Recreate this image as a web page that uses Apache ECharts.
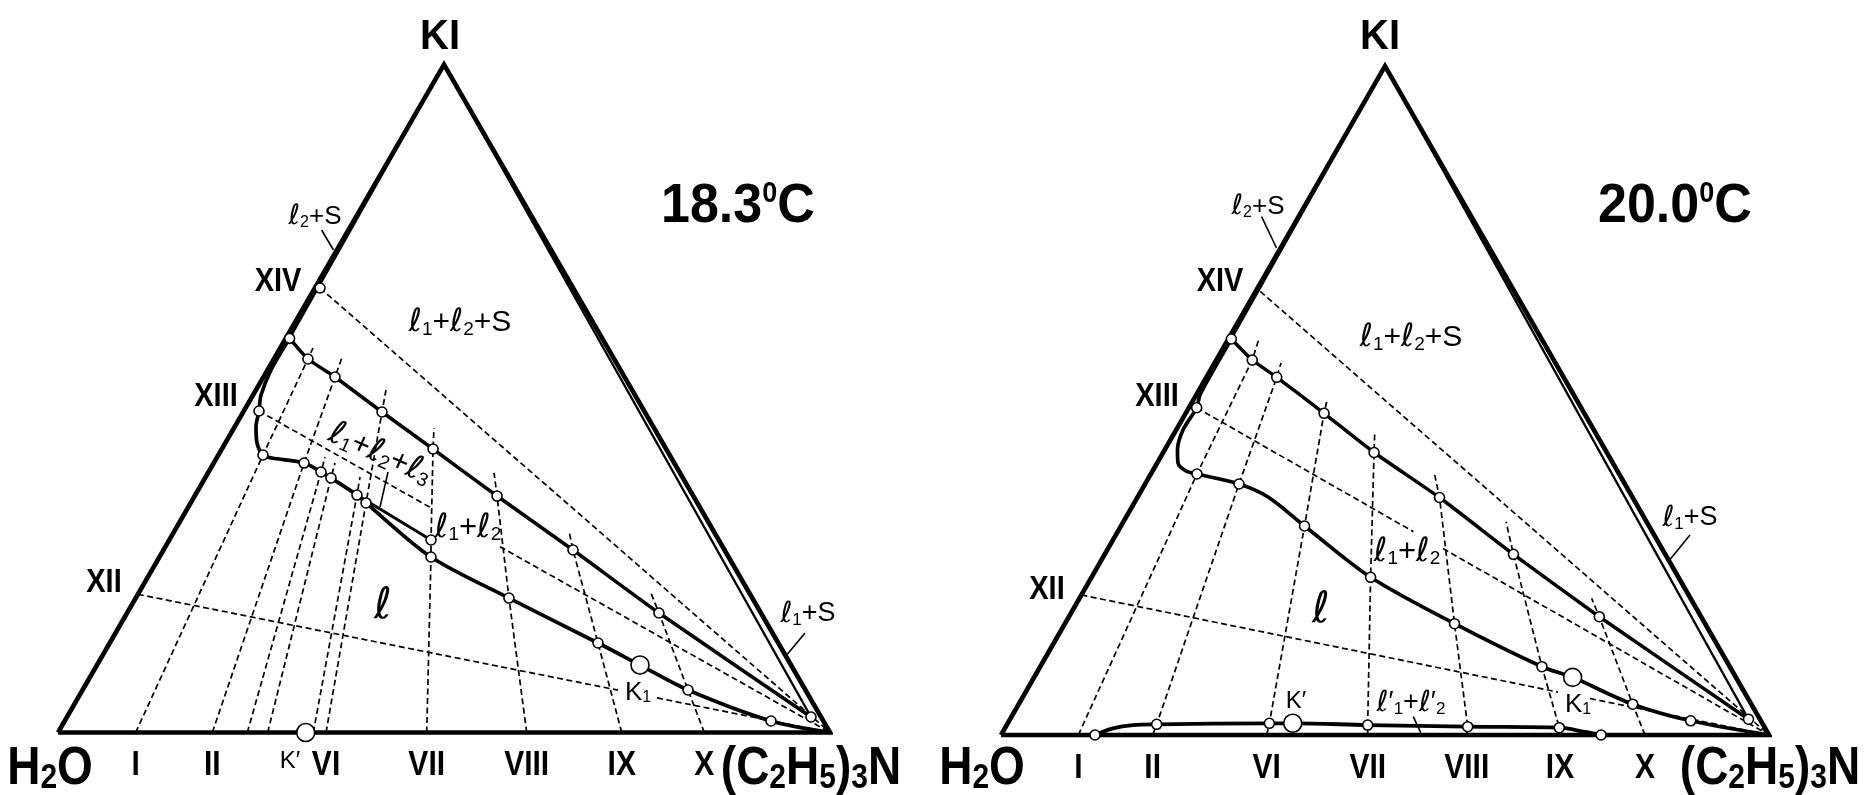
<!DOCTYPE html>
<html><head><meta charset="utf-8">
<script src="https://cdn.jsdelivr.net/npm/echarts@6/dist/echarts.min.js"></script>
<style>html,body{margin:0;padding:0;background:#fff}#c{width:1869px;height:795px}</style>
</head><body><div id="c"></div>
<script>
// Compositions are [ (C2H5)3N mass %, KI mass % ]; water = 100 - both.
const sectionNames = ['I','II','VI','VII','VIII','IX','X'];
const t1SectionBase = [10.06,19.99,34.72,47.76,60.71,73.02,83.72];
const t2SectionBase = [10.07,19.75,34.60,47.75,60.64,72.79,83.85];

// ---------- 18.3 C ----------
const t1Upper = [[0.5,59.0],[4.42,55.91],[9.27,53.22],[17.98,47.98],[27.36,42.44],[39.17,35.40],[53.05,27.32],[68.90,17.89],[96.38,2.32]];
const t1Lower = [[0.5,59.0],[0.46,54.27],[1.04,50.52],[1.97,48.13],[2.78,45.73],[4.11,43.34],[5.78,41.54],[7.17,41.09],[11.70,40.34],[14.57,39.0],[16.31,38.10],[20.95,35.55],[22.72,34.36],[35.18,26.27],[48.35,20.13],[63.25,13.40],[70.34,10.10],[78.43,6.36],[91.50,1.72],[100,0]];
const t1ThreePhase = [[20.95,35.55],[33.91,28.82]];
const t1Slivers = [[[0,100],[0.5,59.0]],[[0,100],[96.38,2.32]]];
const t1Sections = [
  [[10.06,0],[5.78,41.54],[4.42,55.91],[4.25,57.56]],
  [[19.99,0],[11.70,40.34],[9.27,53.22],[8.74,56.02]],
  [[24.52,0],[14.57,39.0],[13.97,41.24]],
  [[27.16,0],[16.31,38.10],[15.71,40.34]],
  [[33.07,0],[20.95,35.55],[20.0,38.25]],
  [[34.72,0],[22.72,34.36],[17.98,47.98],[16.85,51.27]],
  [[47.76,0],[35.18,26.27],[33.91,28.82],[27.36,42.44],[25.91,45.58]],
  [[60.71,0],[48.35,20.13],[39.17,35.40],[37.06,38.85]],
  [[73.02,0],[63.25,13.40],[53.05,27.32],[51.11,30.16]],
  [[83.72,0],[78.43,6.36],[68.90,17.89],[66.37,20.88]]
];
const t1Ties = [
  [[0,20.69],[69.37,6.34]], [[75.0,5.18],[100,0]],
  [[1.97,48.13],[31.33,33.72]], [[43.34,27.82],[100,0]],
  [[0.67,66.54],[100,0]]
];
const t1Circles = [[0.67,66.54],[0.5,59.0],[4.42,55.91],[9.27,53.22],[17.98,47.98],[27.36,42.44],[39.17,35.40],[53.05,27.32],[68.90,17.89],[96.38,2.32],
  [1.97,48.13],[5.78,41.54],[11.70,40.34],[14.57,39.0],[16.31,38.10],[20.95,35.55],[22.72,34.36],[35.18,26.27],[33.91,28.82],[48.35,20.13],[63.25,13.40],[78.43,6.36],[91.50,1.72]];
const t1Critical = [[32.09,0],[70.34,10.10]];

// ---------- 20.0 C ----------
const t2Upper = [[0.4,59.19],[4.69,56.05],[9.17,53.47],[18.02,48.09],[27.46,42.23],[39.35,35.50],[53.22,27.01],[69.06,17.68],[96.15,2.36]];
const t2Lower = [[0.4,59.19],[0.39,54.56],[0.50,50.82],[1.02,48.92],[0.90,45.59],[1.68,42.60],[2.72,40.66],[4.36,39.46],[6.01,39.01],[12.23,37.52],[16.98,35.58],[23.90,31.24],[36.34,23.57],[50.73,16.64],[65.33,10.21],[70.12,8.62],[79.95,4.60],[88.74,2.12],[100,0]];
const t2Bottom = [[12.24,0],[14.08,1.00],[16.44,1.49],[19.47,1.60],[34.07,1.75],[37.11,1.75],[47.0,1.49],[60.15,1.24],[72.15,1.09],[75.82,0.45],[78.13,0]];
const t2Slivers = [[[0,100],[0.4,59.19]],[[0,100],[96.15,2.36]]];
const t2Sections = [
  [[10.07,0],[6.01,39.01],[4.69,56.05],[4.02,59.04]],
  [[19.75,0],[19.47,1.60],[12.23,37.52],[9.17,53.47],[8.66,55.61]],
  [[34.60,0],[34.07,1.75],[23.90,31.24],[18.02,48.09],[17.50,49.82]],
  [[47.75,0],[47.0,1.49],[36.34,23.57],[27.46,42.23],[26.09,45.14]],
  [[60.64,0],[60.15,1.24],[50.73,16.64],[39.35,35.50],[36.70,39.36]],
  [[72.79,0],[72.15,1.09],[65.33,10.21],[53.22,27.01],[49.82,31.88]],
  [[83.85,0],[79.95,4.60],[69.06,17.68],[66.69,20.43]]
];
const t2Ties = [
  [[0,20.93],[69.32,6.42]], [[73.97,5.45],[100,0]],
  [[1.02,48.92],[38.51,30.39]], [[43.62,27.87],[100,0]],
  [[0.6,66.3],[100,0]]
];
const t2Circles = [[0.4,59.19],[4.69,56.05],[9.17,53.47],[18.02,48.09],[27.46,42.23],[39.35,35.50],[53.22,27.01],[69.06,17.68],[96.15,2.36],
  [1.02,48.92],[6.01,39.01],[12.23,37.52],[23.90,31.24],[36.34,23.57],[50.73,16.64],[65.33,10.21],[79.95,4.60],[88.74,2.12],
  [12.24,0],[19.47,1.60],[34.07,1.75],[47.0,1.49],[60.15,1.24],[72.15,1.09],[78.13,0]];
const t2Critical = [[37.11,1.75],[70.12,8.62]];

const triangle = [[0,0],[0,100],[100,0],[0,0]];

// ternary -> cartesian (x: amine + KI/2, y: KI)
const T = p => [p[0] + p[1] / 2, p[1]];

const FONT = '"Liberation Sans", Arial, Helvetica, sans-serif';

function line(g, pts, width, dashed, smooth, z) {
  return { type: 'line', xAxisIndex: g, yAxisIndex: g, data: pts.map(T), symbol: 'none', showSymbol: false,
    clip: false, silent: true, smooth: smooth || false, z: z || 2,
    lineStyle: { color: '#000', width: width, type: dashed ? [6, 3.5] : 'solid', join: 'miter', miterLimit: 20, opacity: 1 } };
}
function dots(g, pts, size) {
  return { type: 'scatter', xAxisIndex: g, yAxisIndex: g, data: pts.map(T), symbol: 'circle', symbolSize: size,
    clip: false, silent: true, z: 10, itemStyle: { color: '#fff', borderColor: '#000', borderWidth: 1.6, opacity: 1 } };
}
function diagram(g, upper, lower, slivers, sections, ties, circles, crit, extra) {
  const s = [line(g, triangle, 4.6, false, false, 3)];
  slivers.forEach(p => s.push(line(g, p, 2.4, false, false, 3)));
  s.push(line(g, upper, 3.5, false, 0.15, 4));
  s.push(line(g, lower, 3.7, false, 0.3, 4));
  extra.forEach(e => s.push(e));
  sections.forEach(p => s.push(line(g, p, 1.7, true)));
  ties.forEach(p => s.push(line(g, p, 1.7, true)));
  s.push(dots(g, circles, 10));
  s.push(dots(g, crit, 18));
  return s;
}

const series = [].concat(
  diagram(0, t1Upper, t1Lower, t1Slivers, t1Sections, t1Ties, t1Circles, t1Critical,
    [line(0, t1ThreePhase, 3.0, false, false, 4)]),
  diagram(1, t2Upper, t2Lower, t2Slivers, t2Sections, t2Ties, t2Circles, t2Critical,
    [line(1, t2Bottom, 3.8, false, 0.35, 4)])
);

// ---- text helpers ----
const B = (s, extra) => Object.assign({ fontSize: s, fontWeight: 'bold', fontFamily: FONT, fill: '#000' }, extra || {});
const N = (s, extra) => Object.assign({ fontSize: s, fontFamily: FONT, fill: '#000' }, extra || {});
const ell = s => N(Math.round(s * 1.08), { fontStyle: 'italic', fontFamily: '"DejaVu Sans", ' + FONT });
const sub = s => N(Math.round(s * 0.62), { verticalAlign: 'bottom' });
function txt(x, y, text, rich, align, rot, sy) {
  return { type: 'text', x: x, y: y, rotation: rot || 0, scaleY: sy || 1, z: 100, silent: true,
    style: { text: text, rich: rich, fill: '#000', textAlign: align || 'center', textVerticalAlign: 'middle' } };
}
function phase(x, y, text, size, rot) {
  return txt(x, y, text, { l: ell(size), s: sub(size), n: N(size) }, 'center', rot);
}
const TALL = 1.16;
const bigRich = { a: B(46), s: B(30, { verticalAlign: 'bottom' }) };
const titleRich = { d: B(52), u: B(27, { verticalAlign: 'top' }) };
const romanRich = { r: B(29) };
const tickRich = { r: B(30) };
function leader(x1, y1, x2, y2) {
  return { type: 'line', z: 100, silent: true, shape: { x1, y1, x2, y2 }, style: { stroke: '#000', lineWidth: 1.6 } };
}
const primeRich = { k: N(24), q: N(24, { verticalAlign: 'top' }) };

const graphic = [
  // left
  txt(440, 37, '{a|KI}', { a: B(40) }, 'center', 0, 1.08),
  txt(661, 207, '{d|18.3}{u|0}{d|C}', titleRich, 'left', 0, 1.08),
  txt(50, 769, '{a|H}{s|2}{a|O}', bigRich, 'center', 0, TALL),
  txt(811, 769, '{a|(C}{s|2}{a|H}{s|5}{a|)}{s|3}{a|N}', bigRich, 'center', 0, TALL),
  txt(278, 282, '{r|XIV}', romanRich, 'center', 0, TALL),
  txt(216, 397, '{r|XIII}', romanRich, 'center', 0, TALL),
  txt(104, 583, '{r|XII}', romanRich, 'center', 0, TALL),
  phase(315, 217, '{l|ℓ}{s|2}{n|+S}', 26),
  phase(460, 323, '{l|ℓ}{s|1}{n|+}{l|ℓ}{s|2}{n|+S}', 30),
  phase(380, 454, '{l|ℓ}{s|1}{n|+}{l|ℓ}{s|2}{n|+}{l|ℓ}{s|3}', 31, -0.42),
  phase(468, 528, '{l|ℓ}{s|1}{n|+}{l|ℓ}{s|2}', 31),
  phase(383, 607, '{l|ℓ}', 40),
  phase(638, 693, '{n|K}{s|1}', 26),
  phase(808, 614, '{l|ℓ}{s|1}{n|+S}', 27),
  txt(290, 761, '{k|K}{q|′}', primeRich),
  leader(321.6, 230, 333.5, 250),
  leader(388, 472, 380, 507),
  leader(805, 633, 786.7, 655),
  // right
  txt(1380, 37, '{a|KI}', { a: B(40) }, 'center', 0, 1.08),
  txt(1598, 207, '{d|20.0}{u|0}{d|C}', titleRich, 'left', 0, 1.08),
  txt(982, 769, '{a|H}{s|2}{a|O}', bigRich, 'center', 0, TALL),
  txt(1770, 769, '{a|(C}{s|2}{a|H}{s|5}{a|)}{s|3}{a|N}', bigRich, 'center', 0, TALL),
  txt(1220, 282, '{r|XIV}', romanRich, 'center', 0, TALL),
  txt(1157, 397, '{r|XIII}', romanRich, 'center', 0, TALL),
  txt(1047, 590, '{r|XII}', romanRich, 'center', 0, TALL),
  phase(1258, 207, '{l|ℓ}{s|2}{n|+S}', 26),
  phase(1411, 338, '{l|ℓ}{s|1}{n|+}{l|ℓ}{s|2}{n|+S}', 30),
  phase(1407, 552, '{l|ℓ}{s|1}{n|+}{l|ℓ}{s|2}', 31),
  phase(1321, 611, '{l|ℓ}', 40),
  phase(1578, 705, '{n|K}{s|1}', 26),
  phase(1690, 518, '{l|ℓ}{s|1}{n|+S}', 27),
  txt(1296, 701, '{k|K}{q|′}', primeRich),
  phase(1411, 703, '{l|ℓ}{n|′}{s|1}{n|+}{l|ℓ}{n|′}{s|2}', 27),
  leader(1261.6, 216.7, 1276.5, 248),
  leader(1690, 535, 1669.6, 560),
  leader(1413.3, 716.7, 1420.7, 732.7)
];

const chart = echarts.init(document.getElementById('c'), null, { renderer: 'canvas' });
chart.setOption({
  animation: false,
  backgroundColor: '#fff',
  grid: [{ left: 58, top: 64.5, width: 772, height: 668 }, { left: 1001, top: 66, width: 768, height: 669 }],
  xAxis: [0, 1].map(i => ({ gridIndex: i, type: 'value', min: 0, max: 100, show: false })),
  yAxis: [0, 1].map(i => ({ gridIndex: i, type: 'value', min: 0, max: 100, show: false })),
  series: series
});

// section tick labels placed through the grid's own scales
[[0, t1SectionBase], [1, t2SectionBase]].forEach(([g, base]) => {
  base.forEach((a, i) => {
    const px = chart.convertToPixel({ gridIndex: g }, T([a, 0]));
    graphic.push(txt(px[0], px[1] + 33, '{r|' + sectionNames[i] + '}', tickRich, 'center', 0, TALL));
  });
});
chart.setOption({ graphic: graphic });
</script>
</body></html>
